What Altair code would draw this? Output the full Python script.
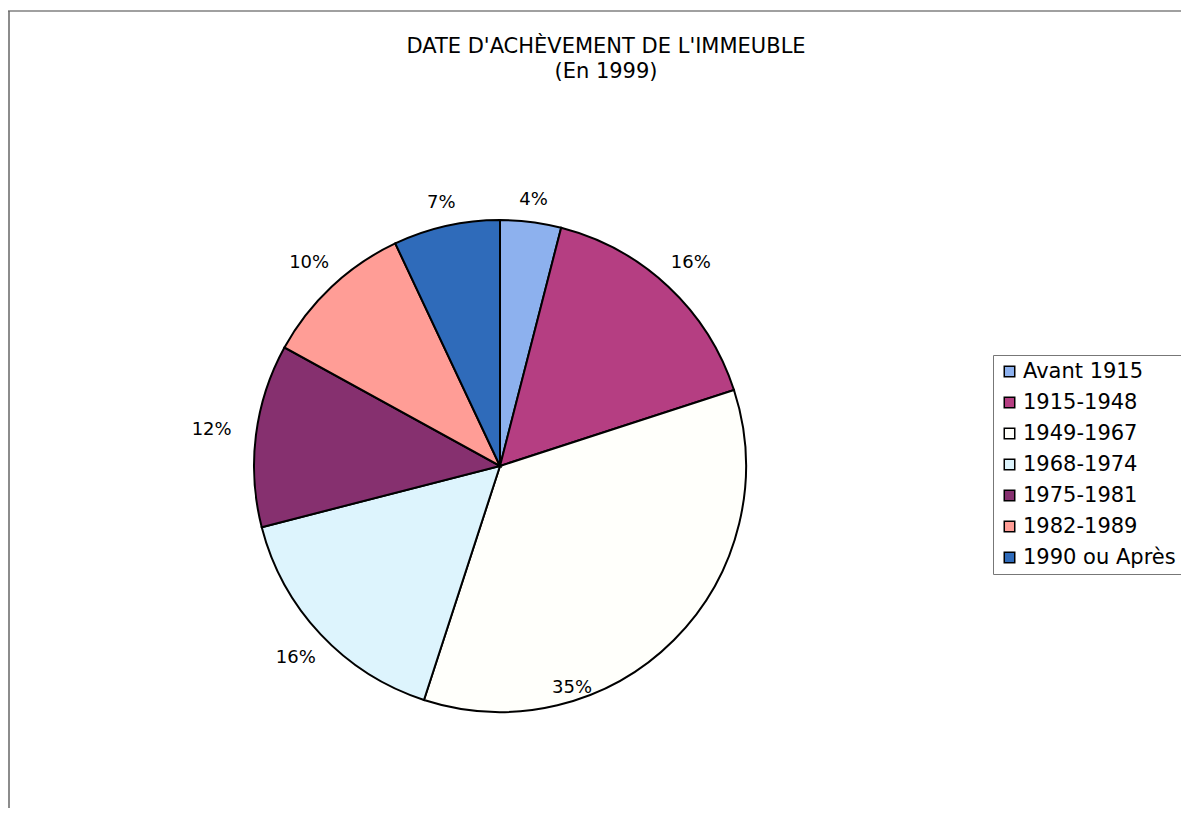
import altair as alt
import pandas as pd
import math

# ---- data ----
categories = ["Avant 1915", "1915-1948", "1949-1967", "1968-1974",
              "1975-1981", "1982-1989", "1990 ou Après"]
shares = [4, 16, 35, 16, 12, 10, 7]

# ---- style / layout ----
colors = ["#8DB1EE", "#B53E82", "#FFFFFB", "#DDF4FD", "#86306F", "#FF9D96", "#2F6BBA"]
label_nudge = {"1949-1967": 7.5}      # angular shift (percent units) of "best fit" label
label_radius = {"1949-1967": 233}     # radius of that label (0 = automatic)
W = H = 600
R = 246
FONT = "DejaVu Sans"
PAD_L, PAD_T = 192, 158

df = pd.DataFrame({"cat": categories, "share": shares, "order": list(range(len(categories)))})
df["label"] = df["share"].astype(str) + "%"
df["nudge"] = [label_nudge.get(c, 0) for c in categories]
df["lrfix"] = [label_radius.get(c, 0) for c in categories]

base = alt.Chart(df)

arcs = base.mark_arc(stroke="black", strokeWidth=2, radius=R).encode(
    theta=alt.Theta("share:Q", stack=True),
    order=alt.Order("order:Q"),
    color=alt.Color(
        "cat:N",
        sort=categories,
        scale=alt.Scale(domain=categories, range=colors),
        legend=alt.Legend(
            title=None, orient="none", legendX=793, legendY=189,
            symbolType="square", symbolSize=110, symbolStrokeColor="black",
            symbolStrokeWidth=1.5, symbolOpacity=1,
            labelFontSize=21, labelFont=FONT, labelColor="black",
            labelLimit=400, labelOffset=3,
            strokeColor="#777777", padding=6, rowPadding=9,
        ),
    ),
)

labels = base.transform_window(
    cum="sum(share)", sort=[alt.SortField("order")], frame=[None, 0]
).transform_calculate(
    mid="datum.cum - datum.share / 2 + datum.nudge"
).transform_calculate(
    lr="datum.lrfix > 0 ? datum.lrfix : 268 + 23 * pow(sin(2 * PI * datum.mid / 100), 2)"
).mark_text(font=FONT, fontSize=18, color="black").encode(
    theta=alt.Theta("mid:Q", scale=alt.Scale(domain=[0, 100], range=[0, 2 * math.pi])),
    radius=alt.Radius("lr:Q", scale=None),
    text="label:N",
)

frame_df = pd.DataFrame({"k": [0]})
top_line = alt.Chart(frame_df).mark_rule(color="#808080", strokeWidth=1.5).encode(
    x=alt.value(-PAD_L), x2=alt.value(1189), y=alt.value(-PAD_T + 3)
)
left_line = alt.Chart(frame_df).mark_rule(color="#666666", strokeWidth=1.5).encode(
    x=alt.value(-PAD_L + 1), y=alt.value(-PAD_T + 3), y2=alt.value(700)
)

chart = alt.layer(arcs, labels, top_line, left_line).resolve_scale(
    theta="independent"
).properties(
    width=W, height=H,
    title=alt.TitleParams(
        ["DATE D'ACHÈVEMENT DE L'IMMEUBLE", "(En 1999)"],
        font=FONT, fontSize=21, fontWeight="normal", color="black",
        anchor="middle", frame="group", dx=106, offset=-72, lineHeight=25,
    ),
    autosize="none",
    padding={"left": PAD_L, "top": PAD_T, "right": 1173 - PAD_L - W, "bottom": 800 - PAD_T - H},
    background="white",
).configure_view(stroke=None)

chart.save("out.html", embed_options={"renderer": "svg", "actions": False})
